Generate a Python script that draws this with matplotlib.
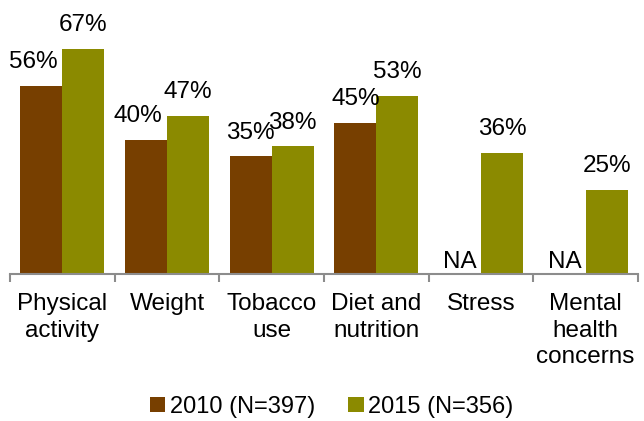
import numpy as np
import matplotlib.pyplot as plt

plt.rcParams['font.family'] = ['Liberation Sans', 'DejaVu Sans']

# Datos
categorias = ['Physical\nactivity', 'Weight', 'Tobacco\nuse', 'Diet and\nnutrition',
              'Stress', 'Mental\nhealth\nconcerns']
v2010 = [56, 40, 35, 45, None, None]
v2015 = [67, 47, 38, 53, 36, 25]
series = ['2010 (N=397)', '2015 (N=356)']
c2010 = '#773F00'
c2015 = '#8B8A00'

fs = 17.5

fig = plt.figure(figsize=(6.44, 4.21), dpi=100)
ax = fig.add_axes([10 / 644, 147 / 421, 628 / 644, 269 / 421])

x = np.arange(len(categorias))
w = 0.4
h2010 = [v if v is not None else 0 for v in v2010]
b1 = ax.bar(x - w / 2, h2010, w, color=c2010, label=series[0])
b2 = ax.bar(x + w / 2, v2015, w, color=c2015, label=series[1])

# Etiquetas de datos
off = [-6, -6, 0, 0, 0, 0]
for i, v in enumerate(v2010):
    if v is None:
        ax.annotate('NA', (x[i] - w / 2, 0), xytext=(0, 1), textcoords='offset points',
                    ha='center', va='bottom', fontsize=fs)
    else:
        ax.annotate(f'{v}%', (x[i] - w / 2, v), xytext=(off[i], 9), textcoords='offset points',
                    ha='center', va='bottom', fontsize=fs)
for i, v in enumerate(v2015):
    ax.annotate(f'{v}%', (x[i] + w / 2, v), xytext=(0, 9), textcoords='offset points',
                ha='center', va='bottom', fontsize=fs)

ax.set_xlim(-0.5, len(categorias) - 0.5)
ax.set_ylim(0, 80)
ax.set_yticks([])
for s in ['top', 'right', 'left']:
    ax.spines[s].set_visible(False)
ax.spines['bottom'].set_color('#8c8c8c')
ax.spines['bottom'].set_linewidth(1.5)

ax.set_xticks(x)
ax.set_xticklabels(categorias, fontsize=fs, linespacing=1.25)
ax.tick_params(axis='x', which='major', length=0, pad=14)
ax.set_xticks(np.arange(-0.5, len(categorias)), minor=True)
ax.tick_params(axis='x', which='minor', length=6, width=1.5, color='#8c8c8c')

fig.legend(handles=[b1, b2], loc='center', bbox_to_anchor=(0.515, 0.034), ncol=2,
           frameon=False, fontsize=17, handlelength=0.65, handleheight=0.65,
           handletextpad=0.2, columnspacing=1.4, borderpad=0.1)

fig.savefig('out.png', dpi=100)
